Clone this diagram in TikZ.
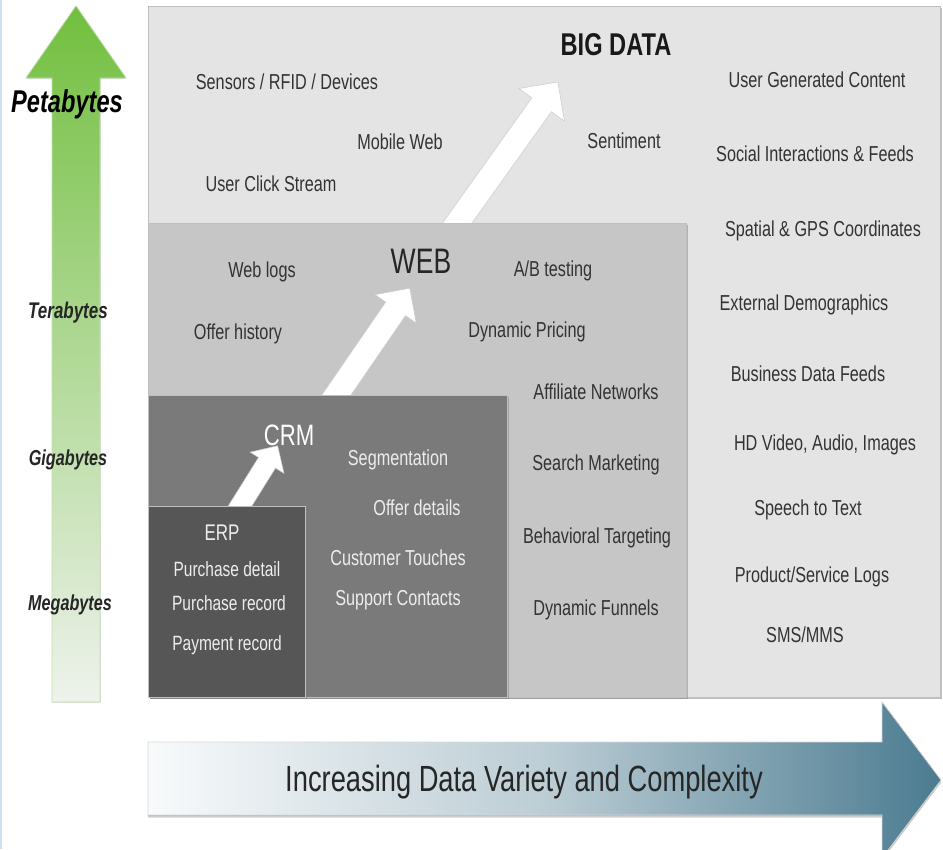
\documentclass[tikz,border=0pt]{standalone}
\usepackage{fontspec}
\setmainfont{Liberation Sans}
\usetikzlibrary{shadows}

\definecolor{bigdatagray}{HTML}{E4E4E4}
\definecolor{webgray}{HTML}{C6C6C6}
\definecolor{crmgray}{HTML}{7A7A7A}
\definecolor{erpgray}{HTML}{565656}
\definecolor{txtgray}{HTML}{333333}
\definecolor{lighttxt}{HTML}{EDEDED}
\definecolor{volgreen}{HTML}{72BF3F}
\definecolor{volpale}{HTML}{EEF2EC}
\definecolor{varpale}{HTML}{F8FAFB}
\definecolor{varmid}{HTML}{BCCDD5}
\definecolor{steelblue}{HTML}{4B7B90}
\definecolor{edgeblue}{HTML}{CFE0EF}

\begin{document}
\begin{tikzpicture}[x=0.02cm, y=-0.02cm,
  lbl/.style={font=\fontsize{11}{13}\selectfont, text=txtgray, xscale=.84, yscale=1.12, inner sep=0pt},
  wlbl/.style={lbl, font=\fontsize{10.5}{13}\selectfont, text=lighttxt},
  sizelbl/.style={lbl, font=\fontsize{11.5}{13}\selectfont\bfseries\itshape, text=black!85},
  layer/.style={draw=black!25, line width=.4pt, drop shadow={shadow xshift=1pt, shadow yshift=-1.2pt, opacity=.5}},
  growarrow/.style={fill=white, draw=black!20, line width=.3pt}]

\fill [white] (0,0) rectangle (943,849);
\useasboundingbox (0,0) rectangle (943,849);
\draw [edgeblue, line width=1pt] (1,0) -- (1,849);

% volume arrow
\filldraw [top color=volgreen, bottom color=volpale, draw=volgreen!45] (52,702) -- (52,78) -- (26,78) -- (76,6) -- (126,78) -- (100,78) -- (100,702) -- cycle;
\node [sizelbl, font=\fontsize{16}{18}\selectfont\bfseries\itshape, text=black] (peta) at (67,104) {Petabytes};
\node [sizelbl] (tera) at (68,313) {Terabytes};
\node [sizelbl, font=\fontsize{11}{13}\selectfont\bfseries\itshape] (giga) at (68,460) {Gigabytes};
\node [sizelbl, font=\fontsize{11}{13}\selectfont\bfseries\itshape] (mega) at (70,605) {Megabytes};

% big data
\filldraw [layer, fill=bigdatagray] (148,6) rectangle (940,697);
\begin{scope}[shift={(458,222)}, rotate=54.5]
\filldraw [growarrow] (-12,-12) -- (144,-12) -- (144,-28) -- (172,0) -- (144,28) -- (144,12) -- (-12,12) -- cycle;
\end{scope}
\node [lbl, font=\fontsize{16}{18}\selectfont\bfseries, text=black!90] (bigdata) at (616,45) {BIG DATA};
\node [lbl] (sensors) at (287,82) {Sensors / RFID / Devices};
\node [lbl] (mobileweb) at (400,142) {Mobile Web};
\node [lbl] (clickstream) at (271,184) {User Click Stream};
\node [lbl] (sentiment) at (624,141) {Sentiment};
\node [lbl] (ugc) at (817,80) {User Generated Content};
\node [lbl] (social) at (815,154) {Social Interactions \& Feeds};
\node [lbl] (spatial) at (823,231) {Spatial \& GPS Coordinates};
\node [lbl] (demogr) at (804,305) {External Demographics};
\node [lbl] (bizfeeds) at (808,374) {Business Data Feeds};
\node [lbl] (hdvideo) at (825,445) {HD Video, Audio, Images};
\node [lbl] (speech) at (808,510) {Speech to Text};
\node [lbl] (prodlogs) at (812,577) {Product/Service Logs};
\node [lbl] (sms) at (805,635) {SMS/MMS};

% web
\filldraw [layer, fill=webgray] (148,223) rectangle (686,697);
\begin{scope}[shift={(335,397)}, rotate=55.5]
\filldraw [growarrow] (-12,-12) -- (107,-12) -- (107,-25) -- (132,0) -- (107,25) -- (107,12) -- (-12,12) -- cycle;
\end{scope}
\node [lbl, font=\fontsize{18}{20}\selectfont, text=black!85] (web) at (421,261) {WEB};
\node [lbl] (weblogs) at (262,272) {Web logs};
\node [lbl] (offerhist) at (238,334) {Offer history};
\node [lbl] (abtest) at (553,271) {A/B testing};
\node [lbl] (dynprice) at (527,332) {Dynamic Pricing};
\node [lbl] (affil) at (596,392) {Affiliate Networks};
\node [lbl] (searchmkt) at (596,465) {Search Marketing};
\node [lbl] (behav) at (597,538) {Behavioral Targeting};
\node [lbl] (funnels) at (596,610) {Dynamic Funnels};

% crm
\filldraw [layer, fill=crmgray] (148,395) rectangle (507,697);
\begin{scope}[shift={(240,506)}, rotate=58]
\filldraw [growarrow] (-10,-10) -- (51,-10) -- (51,-20) -- (71,0) -- (51,20) -- (51,10) -- (-10,10) -- cycle;
\end{scope}
\node [lbl, font=\fontsize{15}{17}\selectfont, text=white] (crm) at (289,435) {CRM};
\node [wlbl, font=\fontsize{11}{13}\selectfont] (segm) at (398,460) {Segmentation};
\node [wlbl, font=\fontsize{11}{13}\selectfont] (offerdet) at (417,508) {Offer details};
\node [wlbl, font=\fontsize{11}{13}\selectfont] (touches) at (398,558) {Customer Touches};
\node [wlbl, font=\fontsize{11}{13}\selectfont] (support) at (398,600) {Support Contacts};

% erp
\filldraw [layer, fill=erpgray] (148,506) rectangle (305,697);
\node [wlbl, font=\fontsize{11.5}{13}\selectfont] (erp) at (222,533) {ERP};
\node [wlbl] (purchdet) at (227,569) {Purchase detail};
\node [wlbl] (purchrec) at (229,603) {Purchase record};
\node [wlbl] (payrec) at (227,645) {Payment record};

% variety arrow
\begin{scope}
\clip (0,0) rectangle (943,849);
\filldraw [left color=varpale, right color=steelblue, middle color=varmid, draw=black!15, drop shadow={shadow xshift=0pt, shadow yshift=-1.5pt, opacity=.4}] (148,742) -- (882,742) -- (882,702) -- (941,780) -- (882,858) -- (882,815) -- (148,815) -- cycle;
\end{scope}
\node [lbl, font=\fontsize{18.5}{20}\selectfont, text=black!85] (variety) at (524,782) {Increasing Data Variety and Complexity};

\end{tikzpicture}
\end{document}
